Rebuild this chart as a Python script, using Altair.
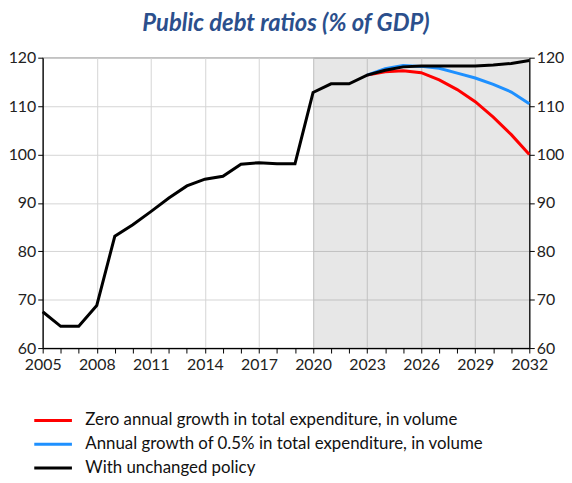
import altair as alt
import pandas as pd

years = list(range(2005, 2033))
unchanged = [67.5, 64.5, 64.5, 68.8, 83.1, 85.5, 88.2, 91.0, 93.5, 94.9, 95.5, 98.0, 98.3, 98.1, 98.1,
             112.8, 114.6, 114.6, 116.4, 117.4, 118.1, 118.3, 118.3, 118.3, 118.3, 118.5, 118.8, 119.4]
scen_years = list(range(2023, 2033))
zero_growth = [116.4, 117.1, 117.3, 116.9, 115.4, 113.4, 110.9, 107.7, 104.1, 100.0]
half_growth = [116.4, 117.7, 118.4, 118.2, 117.8, 116.8, 115.8, 114.5, 112.9, 110.5]
y_ticks = [60, 70, 80, 90, 100, 110, 120]

names = ["Zero annual growth in total expenditure, in volume",
         "Annual growth of 0.5% in total expenditure, in volume",
         "With unchanged policy"]
colors = ["#ff0000", "#1e90ff", "#000000"]

rows = []
for y, v in zip(scen_years, zero_growth):
    rows.append({"year": y, "value": v, "series": names[0]})
for y, v in zip(scen_years, half_growth):
    rows.append({"year": y, "value": v, "series": names[1]})
scen_df = pd.DataFrame(rows)
base_df = pd.DataFrame({"year": years, "value": unchanged, "series": names[2]})

shade = pd.DataFrame({"x1": [2020], "x2": [2032], "y1": [60], "y2": [120]})

W, H = 491, 293
FONT = "Lato"
LBL = 16

xscale = alt.Scale(domain=[2005, 2032], nice=False, zero=False)
yscale = alt.Scale(domain=[60, 120], nice=False, zero=False)

xaxis = alt.Axis(values=years, labelExpr="datum.value % 3 === 1 ? datum.label : ''",
                 format="d", title=None, grid=True,
                 gridOpacity={"condition": {"test": "datum.value % 3 === 1", "value": 1}, "value": 0},
                 gridColor="#d4d4d4", domainColor="#000", tickColor="#000", tickSize=5,
                 labelFontSize=LBL, labelColor="#222", labelFont=FONT, labelPadding=4,
                 labelOverlap=False, labelFlush=False, domainWidth=1.2)

color = alt.Color("series:N", scale=alt.Scale(domain=names, range=colors),
                  legend=alt.Legend(orient="none", legendX=-10, legendY=355, title=None,
                                    symbolType="stroke", symbolStrokeWidth=3,
                                    symbolSize=1444, labelFontSize=17, labelFont=FONT,
                                    labelColor="#111", clipHeight=22, rowPadding=2,
                                    labelOffset=12, labelLimit=520))

rect = alt.Chart(shade).mark_rect(color="#000", opacity=0.095).encode(
    x=alt.X("x1:Q", scale=xscale, axis=xaxis),
    x2="x2:Q",
    y=alt.Y("y1:Q", scale=yscale,
            axis=alt.Axis(values=y_ticks, title=None, grid=True,
                          gridColor="#d4d4d4", domainColor="#000", tickColor="#000",
                          tickSize=5, labelFontSize=LBL, labelColor="#222", labelFont=FONT,
                          labelPadding=2, domainWidth=1.2)),
    y2="y2:Q",
)

scen = alt.Chart(scen_df).mark_line(strokeWidth=3).encode(
    x=alt.X("year:Q", scale=xscale, axis=xaxis),
    y=alt.Y("value:Q", scale=yscale, axis=None),
    color=color,
)

base = alt.Chart(base_df).mark_line(strokeWidth=3).encode(
    x=alt.X("year:Q", scale=xscale, axis=xaxis),
    y=alt.Y("value:Q", scale=yscale, axis=None),
    color=color,
)

right = alt.Chart(shade).mark_rule(opacity=0).encode(
    y=alt.Y("y1:Q", scale=yscale,
            axis=alt.Axis(orient="right", values=y_ticks, title=None,
                          grid=False, domainColor="#000", tickColor="#000", tickSize=5,
                          labelFontSize=LBL, labelColor="#222", labelFont=FONT,
                          labelPadding=2, domainWidth=1.2)),
)

chart = alt.layer(rect, scen, base, right).resolve_scale(y="independent").properties(
    width=W, height=H,
    padding={"left": 0, "right": 0, "top": 2, "bottom": 0},
    title=alt.TitleParams("Public debt ratios (% of GDP)", font=FONT, fontSize=24,
                          fontStyle="italic", fontWeight="bold", color="#2b4f8c",
                          anchor="middle", offset=14),
).configure_view(stroke="#777", strokeWidth=1.2)

chart.save("out.html", embed_options={"renderer": "svg", "actions": False})
